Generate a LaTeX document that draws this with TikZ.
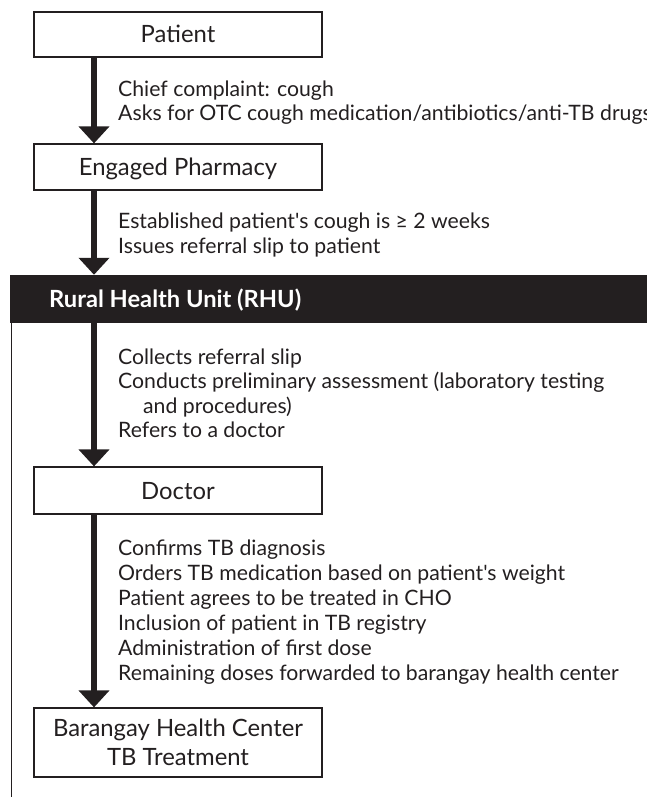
\documentclass[tikz,border=0pt]{standalone}
\usepackage{fontspec}
\setmainfont{Lato}[Ligatures=TeXOff]
\usetikzlibrary{arrows.meta}
\definecolor{ink}{HTML}{231F20}
\newlength\wA
\newlength\wB
\newlength\wC
\AtBeginDocument{%
\settowidth\wA{\fontsize{20}{24}\selectfont Conducts preliminary assessment (laboratory testing}%
\pgfmathsetmacro\fsN{20*486/\wA}\global\let\fsN\fsN
\settowidth\wB{\fontsize{20}{24}\selectfont\bfseries Rural Health Unit (RHU)}%
\pgfmathsetmacro\fsB{20*252/\wB}\global\let\fsB\fsB
\settowidth\wC{\fontsize{20}{24}\selectfont Barangay Health Center}%
\pgfmathsetmacro\fsC{20*250/\wC}\global\let\fsC\fsC
}
\begin{document}
\begin{tikzpicture}[x=1pt,y=-1pt, text=ink,
  box/.style={draw=ink, line width=1.2pt, fill=white, minimum width=288pt, inner sep=0pt, align=center, font=\fontsize{\fsC}{29}\selectfont},
  onebox/.style={box, text height=17pt, text depth=0pt},
  flow/.style={draw=ink, line width=5.5pt, -{Triangle[width=30pt,length=17pt]}},
  note/.style={anchor=base west, inner sep=0pt, font=\fontsize{\fsN}{25}\selectfont}]
\useasboundingbox (0,0) rectangle (647,797);
\clip (0,0) rectangle (647,797);
% boxes
\node[onebox, minimum height=45pt] (patient) at (178,34.5) {Patient};
\node[onebox, minimum height=46pt] (pharm) at (178,167) {Engaged Pharmacy};
\node[fill=ink, draw=none, inner sep=0pt, minimum width=637pt, minimum height=48pt] (rhu) at (328.5,299) {};
\node[anchor=base west, inner sep=0pt, text=white, font=\fontsize{\fsB}{25}\selectfont\bfseries] (rhulabel) at (49,307) {Rural Health Unit (RHU)};
\node[onebox, minimum height=47pt] (doctor) at (178,490.5) {Doctor};
\node[box, minimum height=69pt] (bhc) at (178,742.5) {Barangay Health Center\\TB Treatment};
% frame line
\coordinate (fl) at (11.5,797);
\draw[ink, line width=1pt] (rhu.south west -| fl) -- (fl);
% arrows
\coordinate (ax) at (94,0);
\draw[flow] (patient.south -| ax) -- (pharm.north -| ax);
\draw[flow] (pharm.south -| ax) -- (rhu.north -| ax);
\draw[flow] (rhu.south -| ax) -- (doctor.north -| ax);
\draw[flow] (doctor.south -| ax) -- (bhc.north -| ax);
% notes
\node[note] (n1) at (118,97) {Chief complaint: cough};
\node[note] (n2) at (118,121) {Asks for OTC cough medication/antibiotics/anti-TB drugs};
\node[note] (n3) at (118,228) {Established patient's cough is ≥ 2 weeks};
\node[note] (n4) at (118,253) {Issues referral slip to patient};
\node[note] (n5) at (118,364) {Collects referral slip};
\node[note] (n6) at (118,388.5) {Conducts preliminary assessment (laboratory testing};
\node[note] (n7) at (143,413) {and procedures)};
\node[note] (n8) at (118,437.5) {Refers to a doctor};
\node[note] (n9) at (118,555) {Confirms TB diagnosis};
\node[note] (n10) at (118,580) {Orders TB medication based on patient's weight};
\node[note] (n11) at (118,605) {Patient agrees to be treated in CHO};
\node[note] (n12) at (118,630) {Inclusion of patient in TB registry};
\node[note] (n13) at (118,655) {Administration of first dose};
\node[note] (n14) at (118,680) {Remaining doses forwarded to barangay health center};
\end{tikzpicture}
\end{document}
